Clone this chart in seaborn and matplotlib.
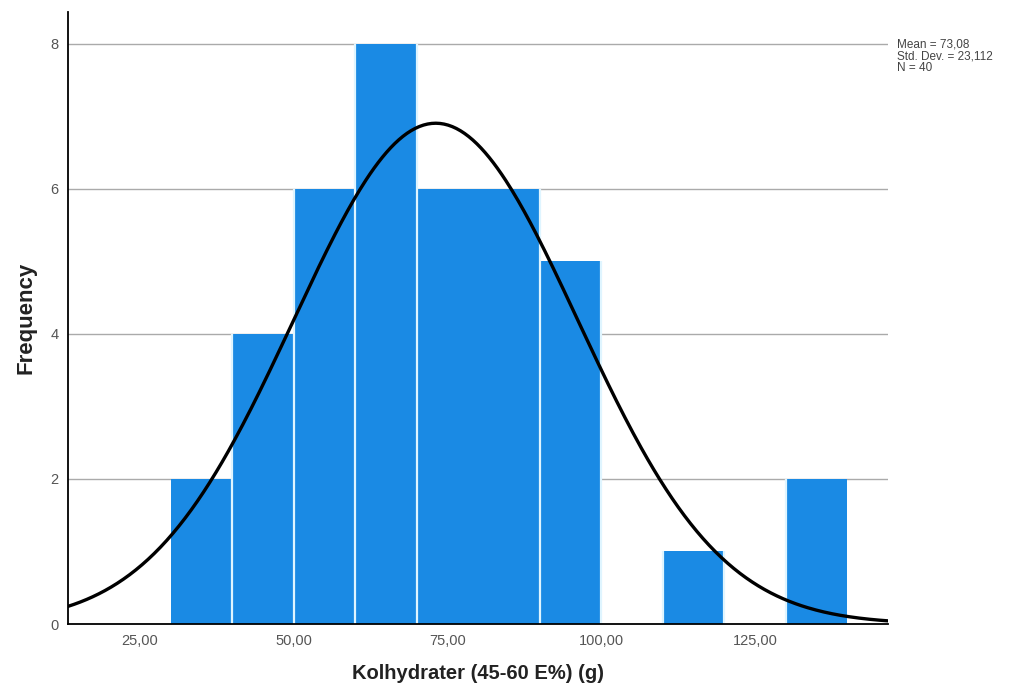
import numpy as np
import pandas as pd
import matplotlib
matplotlib.use("Agg")
import matplotlib.pyplot as plt
import seaborn as sns

# Data
bin_edges = [30, 40, 50, 60, 70, 80, 90, 100, 110, 120, 130, 140]
counts = [2, 4, 6, 8, 6, 6, 5, 0, 1, 0, 2]
mean_val = 73.08
std_val = 23.112
n_val = 40
x_ticks = [25, 50, 75, 100, 125]
x_tick_labels = ["25,00", "50,00", "75,00", "100,00", "125,00"]
y_ticks = [0, 2, 4, 6, 8]

sns.set_theme(style="white")
plt.rcParams['font.family'] = ['Liberation Sans', 'DejaVu Sans']

fig = plt.figure(figsize=(10.09, 6.97), dpi=100)
ax = fig.add_axes([0.0674, 0.1047, 0.8126, 0.8783])

bar_color = "#1a8ae4"
sep_color = "#dff5ff"
centers = [(bin_edges[i] + bin_edges[i + 1]) / 2 for i in range(len(counts))]
df = pd.DataFrame({"x": centers, "w": counts})
sns.histplot(data=df, x="x", weights="w", bins=bin_edges, ax=ax,
             color=bar_color, alpha=1.0, linewidth=0, zorder=2)

# light separators between adjacent bars (the reference shows none between 70-80 and 80-90)
sep_x, sep_top = [], []
for i in range(1, len(bin_edges) - 1):
    if bin_edges[i] == 80:
        continue
    top = max(counts[i - 1], counts[i])
    if top > 0:
        sep_x.append(bin_edges[i])
        sep_top.append(top)
ax.vlines(sep_x, 0, sep_top, colors=sep_color, linewidth=1.6, zorder=2.5)

xlim = (13.3, 146.6)
xs = np.linspace(xlim[0], xlim[1], 400)
binw = bin_edges[1] - bin_edges[0]
ys = n_val * binw / (std_val * np.sqrt(2 * np.pi)) * np.exp(-0.5 * ((xs - mean_val) / std_val) ** 2)
sns.lineplot(x=xs, y=ys, ax=ax, color="black", linewidth=2.4, zorder=3)

ax.set_xlim(*xlim)
ax.set_ylim(0, 8.44)
ax.set_xticks(x_ticks)
ax.set_xticklabels(x_tick_labels)
ax.set_yticks(y_ticks)
ax.tick_params(axis="both", length=0, labelsize=10.5, labelcolor="#555555", pad=7)
ax.yaxis.grid(True, color="#aaaaaa", linewidth=1.0)
ax.set_axisbelow(True)
for s in ["top", "right"]:
    ax.spines[s].set_visible(False)
for s in ["left", "bottom"]:
    ax.spines[s].set_color("black")
    ax.spines[s].set_linewidth(1.3)
    ax.spines[s].set_zorder(4)

ax.set_xlabel("Kolhydrater (45-60 E%) (g)", fontsize=14.5, fontweight="bold", color="#222222", labelpad=12)
ax.set_ylabel("Frequency", fontsize=16, fontweight="bold", color="#222222", labelpad=10)

fig.text(0.889, 0.945, "Mean = 73,08\nStd. Dev. = 23,112\nN = 40", fontsize=8.5,
         color="#444444", va="top", ha="left", linespacing=1.0)

fig.savefig("out.png", dpi=100)
